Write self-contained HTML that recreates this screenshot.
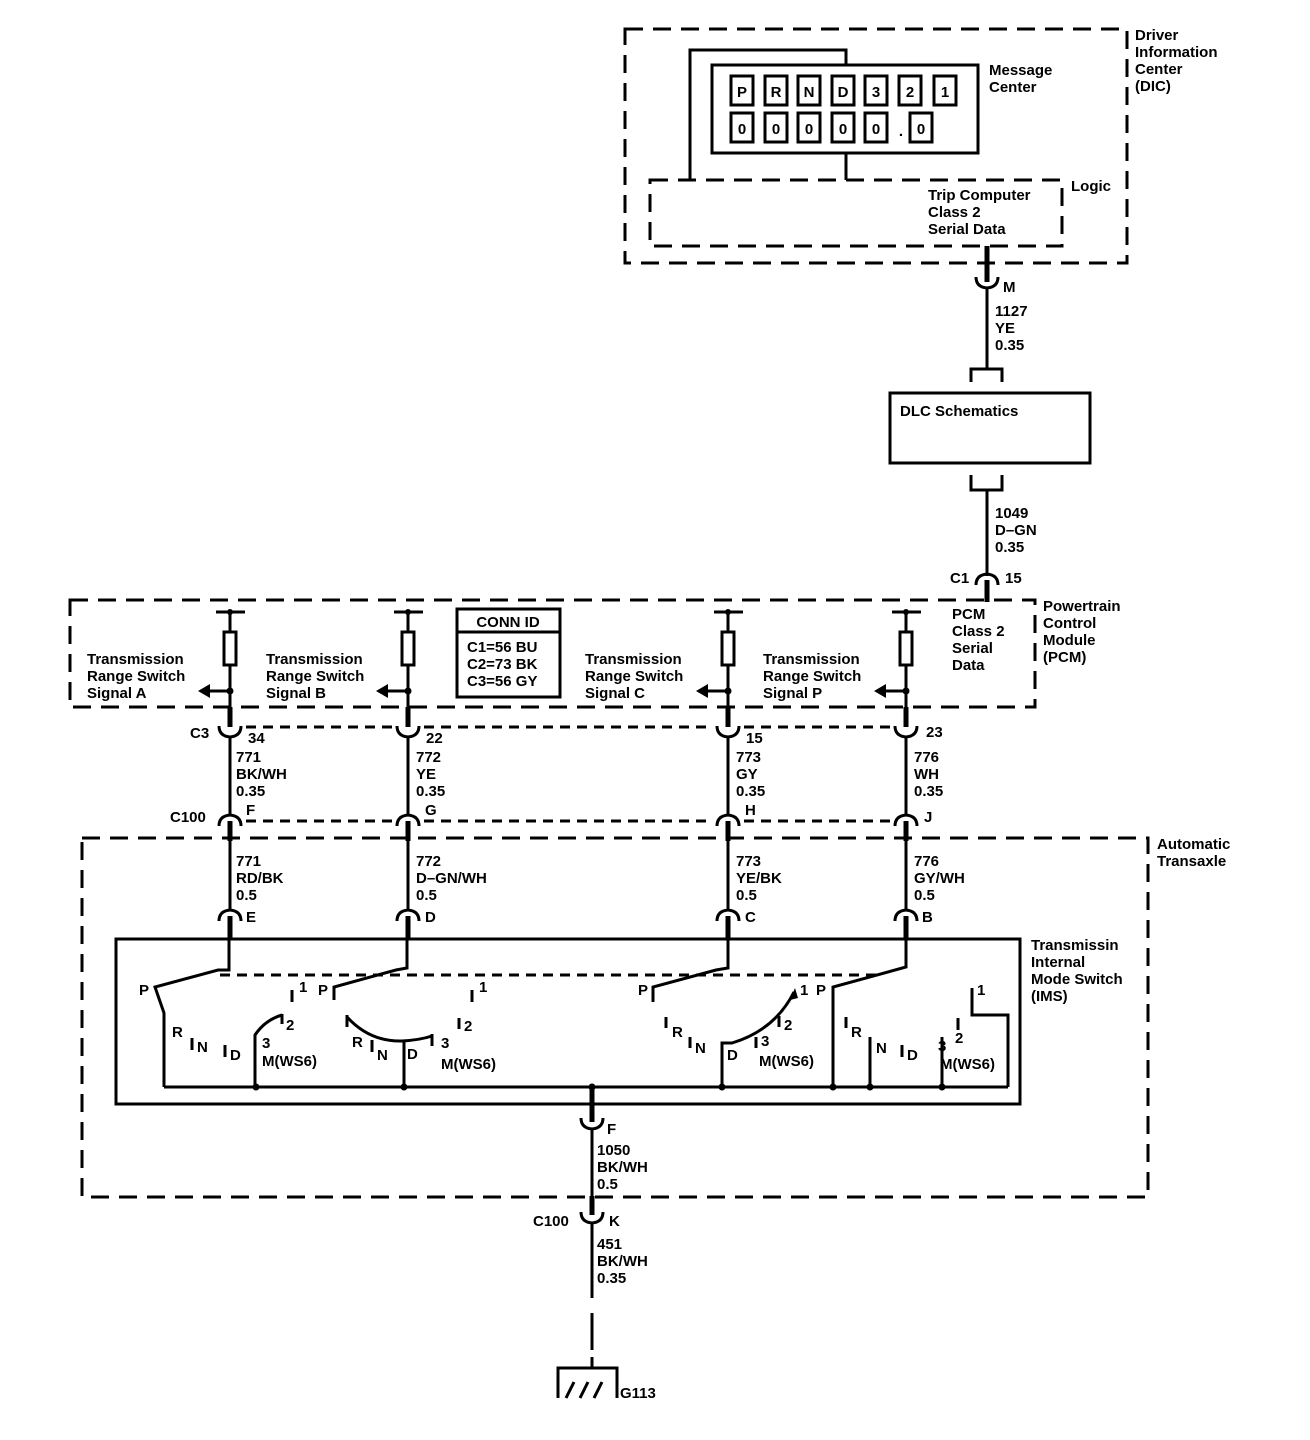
<!DOCTYPE html>
<html><head><meta charset="utf-8"><style>
html,body{margin:0;padding:0;background:#fff;}
svg{display:block;}
text{font-family:"Liberation Sans",Arial,sans-serif;font-size:15px;font-weight:bold;fill:#000;}
.w{stroke:#000;fill:none;stroke-width:3;}
.t{stroke:#000;fill:none;stroke-width:5;}
.d{stroke:#000;fill:none;stroke-width:3;stroke-dasharray:18 10;}
.sd{stroke:#000;fill:none;stroke-width:3;stroke-dasharray:10 7;}
</style></head><body>
<svg width="1310" height="1440" viewBox="0 0 1310 1440" xmlns="http://www.w3.org/2000/svg">
<defs>
<path id="cup" d="M-11,-7 Q-11,3 0,4 Q11,3 11,-7" class="w"/>
<path id="cap" d="M-11,7 Q-11,-3 0,-4 Q11,-3 11,7" class="w"/>
</defs>

<!-- DIC -->
<rect x="625" y="29" width="502" height="234" class="d"/>
<text x="1135" y="40">Driver</text><text x="1135" y="57">Information</text><text x="1135" y="74">Center</text><text x="1135" y="91">(DIC)</text>
<rect x="712" y="65" width="266" height="88" class="w" stroke-width="4"/>
<g class="w">
<rect x="731" y="76" width="22" height="29"/><rect x="765" y="76" width="22" height="29"/><rect x="798" y="76" width="22" height="29"/><rect x="832" y="76" width="22" height="29"/><rect x="865" y="76" width="22" height="29"/><rect x="899" y="76" width="22" height="29"/><rect x="934" y="76" width="22" height="29"/>
<rect x="731" y="113" width="22" height="29"/><rect x="765" y="113" width="22" height="29"/><rect x="798" y="113" width="22" height="29"/><rect x="832" y="113" width="22" height="29"/><rect x="865" y="113" width="22" height="29"/><rect x="910" y="113" width="22" height="29"/>
</g>
<g text-anchor="middle">
<text x="742" y="97">P</text><text x="776" y="97">R</text><text x="809" y="97">N</text><text x="843" y="97">D</text><text x="876" y="97">3</text><text x="910" y="97">2</text><text x="945" y="97">1</text>
<text x="742" y="134">0</text><text x="776" y="134">0</text><text x="809" y="134">0</text><text x="843" y="134">0</text><text x="876" y="134">0</text><text x="901" y="136">.</text><text x="921" y="134">0</text>
</g>
<text x="989" y="75">Message</text><text x="989" y="92">Center</text>
<path d="M846,65 V50 H690 V180" class="w"/>
<path d="M846,153 V180" class="w"/>
<rect x="650" y="180" width="412" height="66" class="d"/>
<text x="928" y="200">Trip Computer</text><text x="928" y="217">Class 2</text><text x="928" y="234">Serial Data</text>
<text x="1071" y="191">Logic</text>

<!-- M connector -->
<path d="M987,246 V282" class="t"/>
<use href="#cup" x="987" y="284"/>
<path d="M987,288 V370" class="w"/>
<text x="1003" y="292">M</text>
<text x="995" y="316">1127</text><text x="995" y="333">YE</text><text x="995" y="350">0.35</text>
<path d="M971,382 V369 H1002 V382" class="w"/>
<rect x="890" y="393" width="200" height="70" class="w"/>
<text x="900" y="416">DLC Schematics</text>
<path d="M971,475 V490 H1002 V475" class="w"/>
<path d="M987,490 V576" class="w"/>
<text x="995" y="518">1049</text><text x="995" y="535">D–GN</text><text x="995" y="552">0.35</text>
<use href="#cap" x="987" y="578"/>
<path d="M987,580 V602" class="t"/>
<text x="950" y="583">C1</text><text x="1005" y="583">15</text>

<!-- PCM -->
<rect x="70" y="600" width="965" height="107" class="d"/>
<text x="1043" y="611">Powertrain</text><text x="1043" y="628">Control</text><text x="1043" y="645">Module</text><text x="1043" y="662">(PCM)</text>
<text x="952" y="619">PCM</text><text x="952" y="636">Class 2</text><text x="952" y="653">Serial</text><text x="952" y="670">Data</text>
<rect x="457" y="609" width="103" height="88" class="w" stroke-width="4"/>
<path d="M457,632 H560" class="w"/>
<text x="508" y="627" text-anchor="middle">CONN ID</text>
<text x="467" y="652">C1=56 BU</text><text x="467" y="669">C2=73 BK</text><text x="467" y="686">C3=56 GY</text>

<text x="87" y="664">Transmission</text><text x="87" y="681">Range Switch</text><text x="87" y="698">Signal A</text>
<text x="266" y="664">Transmission</text><text x="266" y="681">Range Switch</text><text x="266" y="698">Signal B</text>
<text x="585" y="664">Transmission</text><text x="585" y="681">Range Switch</text><text x="585" y="698">Signal C</text>
<text x="763" y="664">Transmission</text><text x="763" y="681">Range Switch</text><text x="763" y="698">Signal P</text>

<g>
<path d="M216,612 H245 M230,612 V632 M230,665 V707" class="w"/><circle cx="230" cy="612" r="3"/>
<rect x="224" y="632" width="12" height="33" class="w"/>
<circle cx="230" cy="691" r="3.5"/><path d="M230,691 H208" class="w"/><path d="M198,691 L210,684 L210,698 Z"/>
<path d="M230,707 V727" class="t"/>
<path d="M394,612 H423 M408,612 V632 M408,665 V707" class="w"/><circle cx="408" cy="612" r="3"/>
<rect x="402" y="632" width="12" height="33" class="w"/>
<circle cx="408" cy="691" r="3.5"/><path d="M408,691 H386" class="w"/><path d="M376,691 L388,684 L388,698 Z"/>
<path d="M408,707 V727" class="t"/>
<path d="M714,612 H743 M728,612 V632 M728,665 V707" class="w"/><circle cx="728" cy="612" r="3"/>
<rect x="722" y="632" width="12" height="33" class="w"/>
<circle cx="728" cy="691" r="3.5"/><path d="M728,691 H706" class="w"/><path d="M696,691 L708,684 L708,698 Z"/>
<path d="M728,707 V727" class="t"/>
<path d="M892,612 H921 M906,612 V632 M906,665 V707" class="w"/><circle cx="906" cy="612" r="3"/>
<rect x="900" y="632" width="12" height="33" class="w"/>
<circle cx="906" cy="691" r="3.5"/><path d="M906,691 H884" class="w"/><path d="M874,691 L886,684 L886,698 Z"/>
<path d="M906,707 V727" class="t"/>
</g>

<path d="M246,727 H393 M424,727 H713 M744,727 H891" class="sd"/>
<path d="M246,821 H393 M424,821 H713 M744,821 H891" class="sd"/>

<g>
<use href="#cup" x="230" y="733"/><use href="#cup" x="408" y="733"/><use href="#cup" x="728" y="733"/><use href="#cup" x="906" y="733"/>
<path d="M230,737 V815 M408,737 V815 M728,737 V815 M906,737 V815" class="w"/>
<use href="#cap" x="230" y="819"/><use href="#cap" x="408" y="819"/><use href="#cap" x="728" y="819"/><use href="#cap" x="906" y="819"/>
<path d="M230,821 V841 M408,821 V841 M728,821 V841 M906,821 V841" class="t"/>
</g>
<text x="190" y="738">C3</text>
<text x="248" y="743">34</text><text x="426" y="743">22</text><text x="746" y="743">15</text><text x="926" y="737">23</text>
<text x="236" y="762">771</text><text x="236" y="779">BK/WH</text><text x="236" y="796">0.35</text>
<text x="416" y="762">772</text><text x="416" y="779">YE</text><text x="416" y="796">0.35</text>
<text x="736" y="762">773</text><text x="736" y="779">GY</text><text x="736" y="796">0.35</text>
<text x="914" y="762">776</text><text x="914" y="779">WH</text><text x="914" y="796">0.35</text>
<text x="170" y="822">C100</text>
<text x="246" y="815">F</text><text x="425" y="815">G</text><text x="745" y="815">H</text><text x="924" y="822">J</text>

<rect x="82" y="838" width="1066" height="359" class="d"/>
<text x="1157" y="849">Automatic</text><text x="1157" y="866">Transaxle</text>
<path d="M230,841 V910 M408,841 V910 M728,841 V910 M906,841 V910" class="w"/>
<text x="236" y="866">771</text><text x="236" y="883">RD/BK</text><text x="236" y="900">0.5</text>
<text x="416" y="866">772</text><text x="416" y="883">D–GN/WH</text><text x="416" y="900">0.5</text>
<text x="736" y="866">773</text><text x="736" y="883">YE/BK</text><text x="736" y="900">0.5</text>
<text x="914" y="866">776</text><text x="914" y="883">GY/WH</text><text x="914" y="900">0.5</text>
<use href="#cap" x="230" y="914"/><use href="#cap" x="408" y="914"/><use href="#cap" x="728" y="914"/><use href="#cap" x="906" y="914"/>
<text x="246" y="922">E</text><text x="425" y="922">D</text><text x="745" y="922">C</text><text x="922" y="922">B</text>
<path d="M230,916 V940 M408,916 V940 M728,916 V940 M906,916 V940" class="t"/>

<rect x="116" y="939" width="904" height="165" class="w" stroke-width="4"/>
<text x="1031" y="950">Transmissin</text><text x="1031" y="967">Internal</text><text x="1031" y="984">Mode Switch</text><text x="1031" y="1001">(IMS)</text>
<path d="M220,975 H880" class="sd" stroke-dasharray="9 7"/>

<path d="M229,940 V970 L218,970 L155,987 L164,1013 V1087" class="w" stroke-width="4"/>
<text x="139" y="995">P</text>
<path d="M292,990 V1002" class="w" stroke-width="4"/><text x="299" y="992" font-size="13">1</text>
<path d="M255,1087 V1035 Q265,1020 282,1015" class="w" stroke-width="4"/><path d="M282,1014 V1024" class="w" stroke-width="4"/>
<text x="286" y="1030">2</text><text x="262" y="1048">3</text><text x="262" y="1066">M(WS6)</text>
<text x="172" y="1037">R</text><path d="M192,1038 V1050" class="w" stroke-width="4"/><text x="197" y="1052">N</text>
<path d="M225,1045 V1057" class="w" stroke-width="4"/><text x="230" y="1060">D</text>

<path d="M407,940 V968 L396,970 L334,987 V1000" class="w" stroke-width="4"/>
<text x="318" y="995">P</text>
<path d="M347,1017 Q370,1042 402,1041 Q420,1040 432,1036" class="w" stroke-width="4"/><path d="M432,1034 V1046 M347,1015 V1027" class="w" stroke-width="4"/>
<path d="M404,1041 V1087" class="w"/>
<text x="352" y="1047">R</text><path d="M372,1040 V1052" class="w" stroke-width="4"/><text x="377" y="1060">N</text>
<text x="407" y="1059">D</text><text x="441" y="1048">3</text><text x="441" y="1069">M(WS6)</text>
<path d="M472,990 V1002" class="w" stroke-width="4"/><text x="479" y="992" font-size="13">1</text>
<path d="M459,1018 V1029" class="w" stroke-width="4"/><text x="464" y="1031">2</text>

<path d="M728,940 V968 L716,970 L653,987 V1002" class="w" stroke-width="4"/>
<text x="638" y="995">P</text>
<path d="M666,1017 V1028" class="w" stroke-width="4"/><text x="672" y="1037">R</text>
<path d="M690,1037 V1048" class="w" stroke-width="4"/><text x="695" y="1053">N</text>
<path d="M722,1087 V1043 H732 Q775,1030 794,992" class="w" stroke-width="3"/><path d="M795,988 L790,1000 L798,998 Z"/>
<text x="727" y="1060">D</text>
<path d="M756,1037 V1048" class="w" stroke-width="4"/><text x="761" y="1046">3</text><text x="759" y="1066">M(WS6)</text>
<path d="M779,1016 V1027" class="w" stroke-width="4"/><text x="784" y="1030">2</text>
<text x="800" y="995">1</text>

<path d="M906,940 V967 L833,987 V1087" class="w" stroke-width="4"/>
<text x="816" y="995">P</text>
<path d="M846,1017 V1028" class="w" stroke-width="4"/><text x="851" y="1037">R</text>
<path d="M870,1037 V1087" class="w" stroke-width="4"/><text x="876" y="1053">N</text>
<path d="M902,1045 V1057" class="w" stroke-width="4"/><text x="907" y="1060">D</text>
<path d="M942,1037 V1087" class="w" stroke-width="4"/><text x="938" y="1051">3</text><text x="940" y="1069">M(WS6)</text>
<path d="M958,1018 V1030" class="w" stroke-width="4"/><text x="955" y="1043">2</text>
<path d="M972,988 V1015 H1008 V1087" class="w" stroke-width="4"/><text x="977" y="995">1</text>

<path d="M164,1087 H1008" class="w" stroke-width="4"/>
<g><circle cx="256" cy="1087" r="3.5"/><circle cx="404" cy="1087" r="3.5"/><circle cx="592" cy="1087" r="3.5"/><circle cx="722" cy="1087" r="3.5"/><circle cx="833" cy="1087" r="3.5"/><circle cx="870" cy="1087" r="3.5"/><circle cx="942" cy="1087" r="3.5"/></g>
<path d="M592,1087 V1122" class="t"/>
<use href="#cup" x="592" y="1125"/>
<text x="607" y="1134">F</text>
<path d="M592,1128 V1196" class="w"/>
<text x="597" y="1155">1050</text><text x="597" y="1172">BK/WH</text><text x="597" y="1189">0.5</text>
<path d="M592,1196 V1215" class="t"/>
<use href="#cup" x="592" y="1219"/>
<text x="533" y="1226">C100</text><text x="609" y="1226">K</text>
<path d="M592,1222 V1298" class="w"/>
<text x="597" y="1249">451</text><text x="597" y="1266">BK/WH</text><text x="597" y="1283">0.35</text>
<path d="M592,1313 V1350" class="w"/>
<path d="M592,1357 V1368 M558,1398 V1368 H617 V1398" class="w"/>
<path d="M566,1398 L574,1382 M580,1398 L588,1382 M594,1398 L602,1382" class="w"/>
<text x="620" y="1398">G113</text>
</svg>
</body></html>
